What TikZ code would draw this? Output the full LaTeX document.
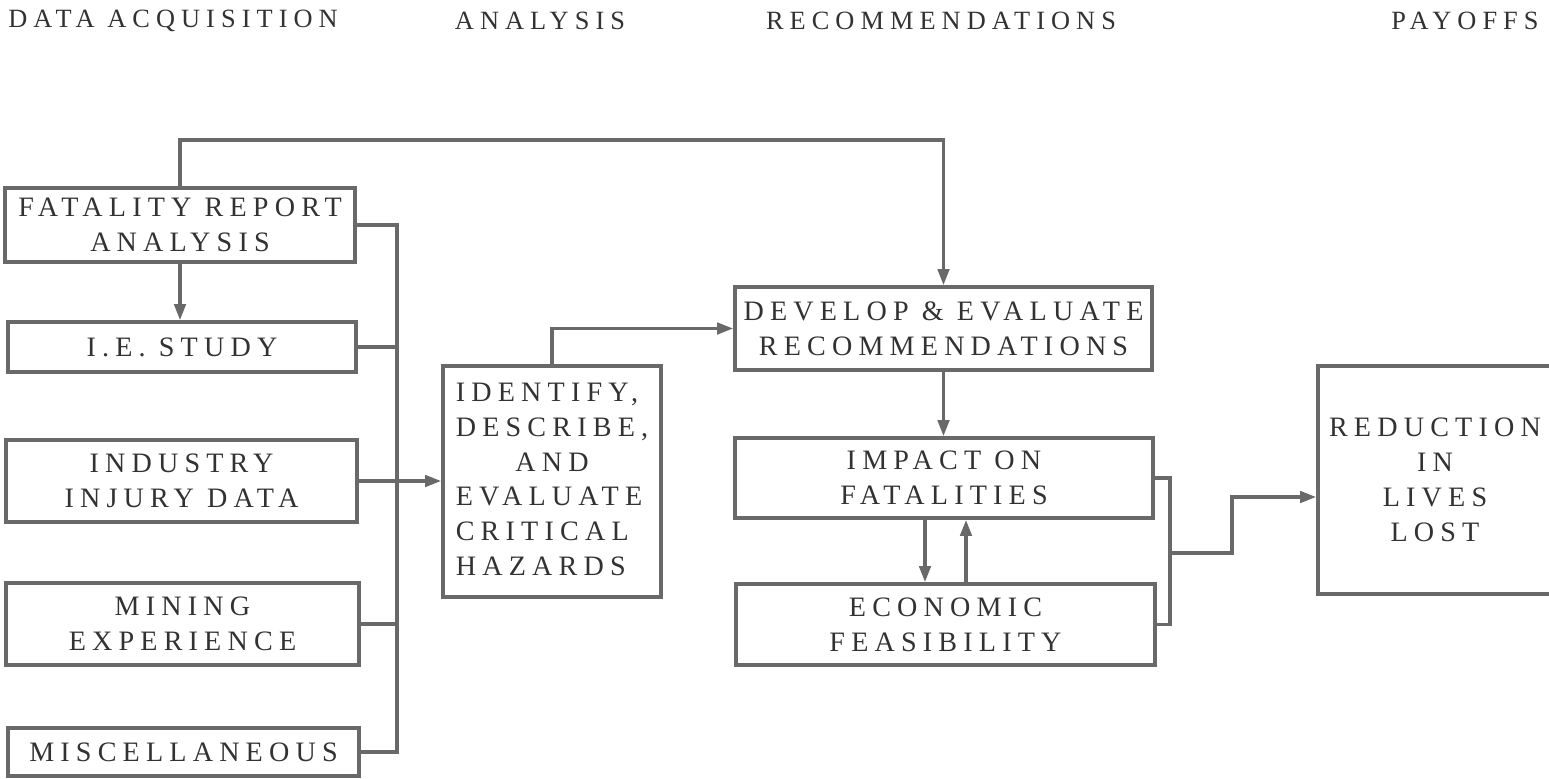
\documentclass[tikz,border=0pt]{standalone}
\usepackage{fontspec}
\setmainfont{Liberation Serif}[LetterSpace=22]
\usetikzlibrary{arrows.meta,calc}
\definecolor{inkgray}{RGB}{105,105,105}
\definecolor{txtgray}{RGB}{50,50,50}
\tikzset{box/.style={draw=inkgray,line width=2.2pt,inner sep=0pt,align=center,
    text=txtgray,font=\fontsize{16}{19.9}\selectfont},
  head/.style={text=txtgray,inner sep=0pt,font=\fontsize{15}{18}\selectfont\addfontfeatures{LetterSpace=23}},
  wire/.style={draw=inkgray,line width=1.8pt},
  arr/.style={wire,-{Triangle[length=0.32cm,width=0.23cm]}}}

\begin{document}
\begin{tikzpicture}[x=0.02cm,y=-0.02cm]
          \useasboundingbox (0,0) rectangle (1549,778);

          % headings
          \node[head,anchor=west] (hdata) at (8,21) {DATA ACQUISITION};
          \node[head] (hana) at (540,21) {ANALYSIS};
          \node[head] (hrec) at (941,21) {RECOMMENDATIONS};
          \node[head] (hpay) at (1465,21) {PAYOFFS};

          % data acquisition
          \node[box,minimum width=7cm,minimum height=1.48cm] (fat) at (180,225) {FATALITY REPORT\\ANALYSIS};
          \node[box,minimum width=6.96cm,minimum height=1cm] (ie) at (182,347) {I.E. STUDY};
          \node[box,minimum width=7.02cm,minimum height=1.64cm] (ind) at (181.5,481) {INDUSTRY\\INJURY DATA};
          \node[box,minimum width=7.06cm,minimum height=1.64cm] (mine) at (182.5,624) {MINING\\EXPERIENCE};
          \node[box,minimum width=7.02cm,minimum height=0.96cm] (misc) at (183.5,752) {MISCELLANEOUS};

          % analysis
          \node[box,minimum width=4.36cm,minimum height=4.62cm] (ident) at (552,481.5)
            {\begin{tabular}{@{}l@{}}IDENTIFY,\\DESCRIBE,\\\multicolumn{1}{@{}c@{}}{AND}\\EVALUATE\\CRITICAL\\HAZARDS\end{tabular}};

          % recommendations
          \node[box,minimum width=8.34cm,minimum height=1.66cm] (dev) at (943.5,328.5) {DEVELOP \& EVALUATE\\RECOMMENDATIONS};
          \node[box,minimum width=8.36cm,minimum height=1.6cm] (imp) at (944,478) {IMPACT ON\\FATALITIES};
          \node[box,minimum width=8.38cm,minimum height=1.62cm] (eco) at (945.5,624.5) {ECONOMIC\\FEASIBILITY};

          % payoffs
          \node[box,minimum width=4.68cm,minimum height=4.56cm] (red) at (1435,480) {REDUCTION\\IN\\LIVES\\LOST};

          \coordinate (loop) at (943.5,140);
          \coordinate (bus) at (397,0);
          \coordinate (dn) at (925,0);
          \coordinate (up) at (966,0);
          \coordinate (brk) at (1170,0);
          \coordinate (mid) at (1170,553);
          \coordinate (hit) at ($(red.west)+(0,17)$);
          \coordinate (jog) at (1232,0);

          \draw[arr] (fat.north) |- (loop) -- (dev.north);
          \draw[arr] (fat.south) -- (fat.south |- ie.north);

          \draw[wire] (fat.east) -- (fat.east -| bus) -- (misc.east -| bus) -- (misc.east);
          \draw[wire] (ie.east) -- (ie.east -| bus);
          \draw[wire] (mine.east) -- (mine.east -| bus);
          \draw[arr] (ind.east) -- (ind.east -| ident.west);

          \draw[arr] (ident.north) |- (dev.west);
          \draw[arr] (dev.south) -- (dev.south |- imp.north);
          \draw[arr] (imp.south -| dn) -- (eco.north -| dn);
          \draw[arr] (eco.north -| up) -- (imp.south -| up);

          \draw[wire] (imp.east) -- (imp.east -| brk) -- (eco.east -| brk) -- (eco.east);
          \draw[arr] (mid) -- (mid -| jog) -- (jog |- hit) -- (hit);
        \end{tikzpicture}
\end{document}
